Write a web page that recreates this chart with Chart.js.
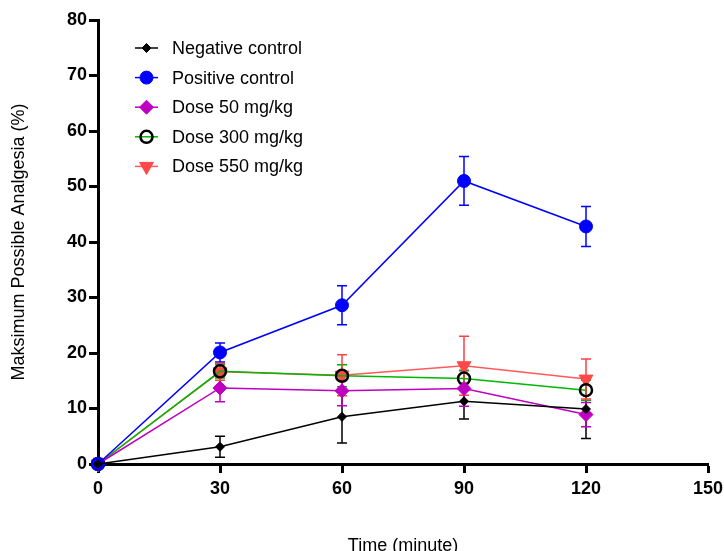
<!DOCTYPE html>
<html>
<head>
<meta charset="utf-8">
<script src="https://cdn.jsdelivr.net/npm/chart.js@4.4.1/dist/chart.umd.min.js"></script>
<style>
html, body { margin: 0; padding: 0; background: #fff; }
#wrap { width: 724px; height: 551px; }
</style>
</head>
<body>
<div id="wrap"><canvas id="c"></canvas></div>
<script>
var times = [0, 30, 60, 90, 120]
var seriesNames = ['Negative control', 'Positive control', 'Dose 50 mg/kg', 'Dose 300 mg/kg', 'Dose 550 mg/kg']

var negative    = [0, 3.1, 8.5, 11.3, 9.9]
var negativeErr = [0, 1.9, 4.7, 3.2, 5.3]
var positive    = [0, 20.1, 28.6, 51.0, 42.8]
var positiveErr = [0, 1.7, 3.5, 4.4, 3.6]
var dose50      = [0, 13.7, 13.2, 13.6, 8.9]
var dose50Err   = [0, 2.5, 2.7, 3.2, 2.2]
var dose300     = [0, 16.7, 15.9, 15.4, 13.3]
var dose300Err  = [0, 1.2, 2.0, 1.5, 1.8]
var dose550     = [0, 16.6, 16.0, 17.7, 15.3]
var dose550Err  = [1.0, 1.5, 3.7, 5.3, 3.6]

var xTicks = [0, 30, 60, 90, 120, 150]
var yTicks = [0, 10, 20, 30, 40, 50, 60, 70, 80]

var FONT = '"Liberation Sans", Arial, sans-serif'

function pts(values) {
	return values.map(function (v, i) { return { x: times[i], y: v } })
}

var errors = [negativeErr, positiveErr, dose50Err, dose300Err, dose550Err]
var errColors = ['#000000', '#0000ff', '#c000c0', '#00b000', '#ff4040']

var styles = [
	{ line: '#000000', fill: '#000000', border: '#000000', style: 'rectRot', r: 4.5, bw: 1, rot: 0 },
	{ line: '#0000ff', fill: '#0000ff', border: '#0000ff', style: 'circle', r: 6.5, bw: 1, rot: 0 },
	{ line: '#c000c0', fill: '#c000c0', border: '#c000c0', style: 'rectRot', r: 7, bw: 1, rot: 0 },
	{ line: '#00b800', fill: 'rgba(0,0,0,0)', border: '#000000', style: 'circle', r: 6, bw: 2.5, rot: 0 },
	{ line: '#ff5a5a', fill: '#ff4848', border: '#ff4848', style: 'triangle', r: 8, bw: 1, rot: 180 }
]
var seriesValues = [negative, positive, dose50, dose300, dose550]

var datasets = seriesValues.map(function (vals, i) {
	var s = styles[i]
	return {
		label: seriesNames[i],
		data: pts(vals),
		borderColor: s.line,
		borderWidth: 1.5,
		backgroundColor: s.fill,
		pointStyle: s.style,
		pointRadius: s.r,
		pointRotation: s.rot,
		pointBackgroundColor: s.fill,
		pointBorderColor: s.border,
		pointBorderWidth: s.bw,
		pointHoverRadius: s.r,
		tension: 0,
		clip: false
	}
})

var errorBars = {
	id: 'errorBars',
	beforeDatasetsDraw: function (chart) {
		var ctx = chart.ctx, xs = chart.scales.x, ys = chart.scales.y
		var bottom = chart.chartArea.bottom
		chart.data.datasets.forEach(function (ds, i) {
			var err = errors[i]
			ctx.save()
			ctx.strokeStyle = errColors[i]
			ctx.lineWidth = 1.5
			ds.data.forEach(function (p, j) {
				if (!err[j]) return
				var px = xs.getPixelForValue(p.x)
				var top = ys.getPixelForValue(p.y + err[j])
				var bot = Math.min(ys.getPixelForValue(p.y - err[j]), bottom)
				ctx.beginPath()
				ctx.moveTo(px, top); ctx.lineTo(px, bot)
				ctx.moveTo(px - 5, top); ctx.lineTo(px + 5, top)
				if (bot < bottom) { ctx.moveTo(px - 5, bot); ctx.lineTo(px + 5, bot) }
				ctx.stroke()
			})
			ctx.restore()
		})
	}
}

var insideLegend = {
	id: 'insideLegend',
	afterDraw: function (chart) {
		var ctx = chart.ctx
		var x0 = chart.chartArea.left + 37
		chart.data.datasets.forEach(function (ds, i) {
			var s = styles[i]
			var y = 48 + i * 29.6
			ctx.save()
			ctx.strokeStyle = s.line
			ctx.lineWidth = 1.5
			ctx.beginPath()
			ctx.moveTo(x0, y); ctx.lineTo(x0 + 23, y)
			ctx.stroke()
			ctx.fillStyle = s.fill
			ctx.strokeStyle = s.border
			ctx.lineWidth = s.bw
			Chart.helpers.drawPoint(ctx, { pointStyle: s.style, radius: s.r, rotation: s.rot, borderWidth: s.bw }, x0 + 11.5, y)
			ctx.fillStyle = '#000'
			ctx.font = '18px ' + FONT
			ctx.textBaseline = 'middle'
			ctx.textAlign = 'left'
			ctx.fillText(ds.label, x0 + 37, y + 1)
			ctx.restore()
		})
	}
}

new Chart(document.getElementById('c'), {
	type: 'line',
	data: { datasets: datasets },
	options: {
		responsive: true,
		maintainAspectRatio: false,
		animation: false,
		layout: { padding: { left: 0, right: 16, top: 20, bottom: 0 } },
		plugins: { legend: { display: false }, tooltip: { enabled: false } },
		scales: {
			x: {
				type: 'linear',
				min: 0, max: 150,
				afterBuildTicks: function (s) { s.ticks = xTicks.map(function (v) { return { value: v } }) },
				afterFit: function (s) { s.height = 87; s.paddingRight = 0; s.paddingLeft = 0 },
				grid: { drawOnChartArea: false, drawTicks: true, tickLength: 9, tickWidth: 3, tickColor: '#000' },
				border: { display: true, width: 3, color: '#000' },
				ticks: { color: '#000', padding: 5, maxRotation: 0, font: { family: FONT, size: 18, weight: 'bold' } },
				title: { display: true, text: 'Time (minute)', color: '#000', padding: { top: 0, bottom: -6 }, font: { family: FONT, size: 18 } }
			},
			y: {
				min: 0, max: 80,
				afterBuildTicks: function (s) { s.ticks = yTicks.map(function (v) { return { value: v } }) },
				afterFit: function (s) { s.width = 98 },
				grid: { drawOnChartArea: false, drawTicks: true, tickLength: 9, tickWidth: 3, tickColor: '#000' },
				border: { display: true, width: 3, color: '#000' },
				ticks: { color: '#000', padding: 2, font: { family: FONT, size: 18, weight: 'bold' } },
				title: { display: true, text: 'Maksimum Possible Analgesia (%)', color: '#000', padding: { top: 8, bottom: 0 }, font: { family: FONT, size: 18 } }
			}
		}
	},
	plugins: [errorBars, insideLegend]
})
</script>
</body>
</html>
